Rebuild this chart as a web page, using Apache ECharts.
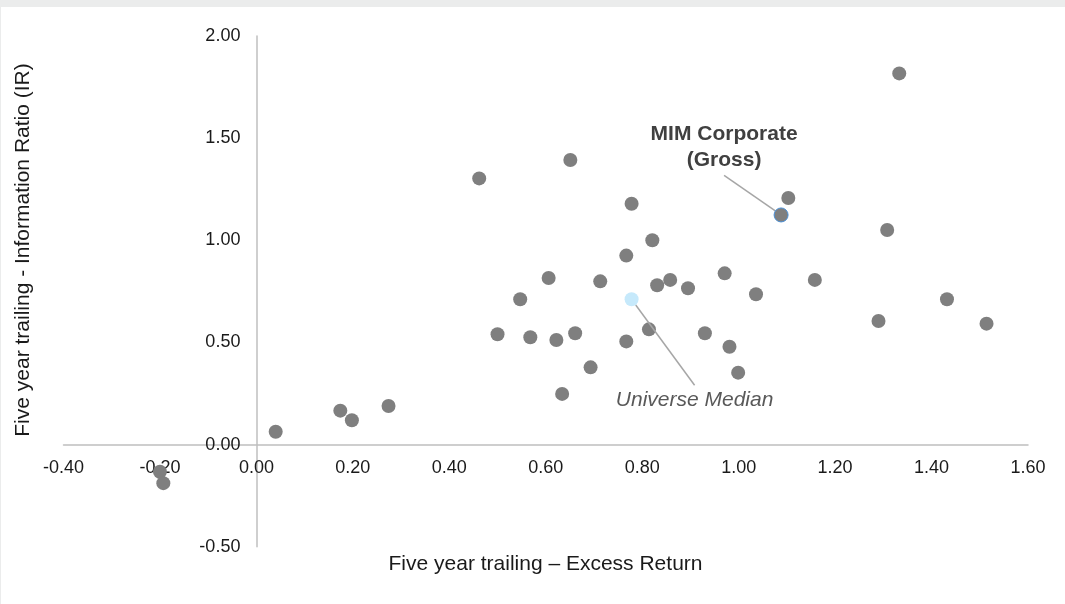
<!DOCTYPE html>
<html>
<head>
<meta charset="utf-8">
<script src="https://cdn.jsdelivr.net/npm/echarts@6/dist/echarts.min.js"></script>
<style>
html,body{margin:0;padding:0;background:#ffffff;}
#chart{width:1065px;height:604px;}
</style>
</head>
<body>
<div id="chart"></div>
<script>
// ---- Data ----
const xTickLabels = ['-0.40','-0.20','0.00','0.20','0.40','0.60','0.80','1.00','1.20','1.40','1.60'];
const yTickLabels = ['-0.50','0.00','0.50','1.00','1.50','2.00'];

const xAxisTitle = 'Five year trailing \u2013 Excess Return';
const yAxisTitle = 'Five year trailing - Information Ratio (IR)';

// Universe managers: five-year excess return and information ratio
const universeReturn = [-0.200,-0.193,0.040,0.174,0.198,0.274,0.462,0.651,0.778,0.821,0.767,0.606,0.713,0.831,0.858,0.895,0.971,1.036,1.103,1.308,1.333,1.158,1.432,1.290,1.514,0.547,0.814,0.500,0.568,0.622,0.661,0.767,0.930,0.981,0.999,0.693,0.634];
const universeIR     = [-0.133,-0.189,0.063,0.166,0.119,0.189,1.303,1.393,1.179,1.000,0.925,0.815,0.799,0.780,0.806,0.765,0.838,0.736,1.207,1.050,1.817,0.806,0.711,0.605,0.592,0.711,0.564,0.540,0.525,0.512,0.545,0.505,0.545,0.479,0.352,0.378,0.248];

const medianName = 'Universe Median';
const medianReturn = [0.778];
const medianIR = [0.711];

const mimName = 'MIM Corporate\n(Gross)';
const mimReturn = [1.088];
const mimIR = [1.124];

// ---- Build chart ----
const FONT = '"Liberation Sans", Arial, sans-serif';
const W = 1065, H = 604;
const GRID = { left: 63.5, right: 37, top: 36, bottom: 57.3 };

const xMin = parseFloat(xTickLabels[0]);
const xMax = parseFloat(xTickLabels[xTickLabels.length - 1]);
const xInt = parseFloat(xTickLabels[1]) - parseFloat(xTickLabels[0]);
const yMin = parseFloat(yTickLabels[0]);
const yMax = parseFloat(yTickLabels[yTickLabels.length - 1]);
const yInt = parseFloat(yTickLabels[1]) - parseFloat(yTickLabels[0]);

// axes cross at zero: shift each axis inward to the other axis' zero
const plotW = W - GRID.left - GRID.right;
const plotH = H - GRID.top - GRID.bottom;
const xAxisOffset = -((0 - yMin) / (yMax - yMin)) * plotH;
const yAxisOffset = -((0 - xMin) / (xMax - xMin)) * plotW;

function tickFmt(labels) {
  return function (v) {
    let best = labels[0], bd = Infinity;
    labels.forEach(l => { const d = Math.abs(parseFloat(l) - v); if (d < bd) { bd = d; best = l; } });
    return best;
  };
}
function zip(a, b, name) { return a.map((v, i) => ({ name: name || '', value: [v, b[i]] })); }

const chart = echarts.init(document.getElementById('chart'), null, { renderer: 'canvas' });
chart.setOption({
  animation: false,
  backgroundColor: '#ffffff',
  textStyle: { fontFamily: FONT },
  grid: Object.assign({ containLabel: false, outerBoundsMode: 'none' }, GRID),
  xAxis: {
    type: 'value', min: xMin, max: xMax, interval: xInt,
    position: 'bottom', offset: xAxisOffset,
    axisLine: { show: true, onZero: false, lineStyle: { color: '#bfbfbf', width: 1.5 } },
    axisTick: { show: false },
    splitLine: { show: false },
    axisLabel: { show: true, color: '#1a1a1a', fontSize: 18, fontFamily: FONT, margin: 14, formatter: tickFmt(xTickLabels), showMinLabel: true, showMaxLabel: true }
  },
  yAxis: {
    type: 'value', min: yMin, max: yMax, interval: yInt,
    position: 'left', offset: yAxisOffset,
    axisLine: { show: true, onZero: false, lineStyle: { color: '#bfbfbf', width: 1.5 } },
    axisTick: { show: false },
    splitLine: { show: false },
    axisLabel: { show: true, color: '#1a1a1a', fontSize: 18, fontFamily: FONT, margin: 16, formatter: tickFmt(yTickLabels), showMinLabel: true, showMaxLabel: true }
  },
  graphic: [
    { type: 'rect', left: 0, top: 0, shape: { width: W, height: 7 }, style: { fill: '#ebecec' }, z: -1 },
    { type: 'rect', left: 0, top: 0, shape: { width: 1, height: H }, style: { fill: '#ebecec' }, z: -1 },
    { type: 'text', x: 545.5, y: 564, style: { text: xAxisTitle, fill: '#1a1a1a', font: '21px ' + FONT, textAlign: 'center', textVerticalAlign: 'middle' } },
    { type: 'text', x: 23, y: 250, rotation: Math.PI / 2, style: { text: yAxisTitle, fill: '#1a1a1a', font: '21px ' + FONT, textAlign: 'center', textVerticalAlign: 'middle' } }
  ],
  series: [
    {
      name: 'Universe', type: 'scatter', symbol: 'circle', symbolSize: 14,
      itemStyle: { color: '#7f7f7f', opacity: 1 },
      emphasis: { disabled: true },
      data: zip(universeReturn, universeIR),
      z: 2
    },
    {
      name: medianName, type: 'scatter', symbol: 'circle', symbolSize: 14,
      itemStyle: { color: '#c6e9fb', opacity: 1 },
      emphasis: { disabled: true },
      data: zip(medianReturn, medianIR, medianName),
      label: {
        show: true, position: 'inside', formatter: '{b}',
        color: '#595959', fontSize: 21, fontStyle: 'italic', fontFamily: FONT,
        align: 'center', verticalAlign: 'middle',
        backgroundColor: 'rgba(255,255,255,0)', padding: [5, 45, 4, 45]
      },
      labelLayout: { dx: 63, dy: 101 },
      labelLine: { show: true, lineStyle: { color: '#a6a6a6', width: 1.5 } },
      z: 3
    },
    {
      name: 'MIM Corporate (Gross)', type: 'scatter', symbol: 'circle', symbolSize: 14,
      itemStyle: { color: '#7f7f7f', borderColor: '#4a8fd6', borderWidth: 1, opacity: 1 },
      emphasis: { disabled: true },
      data: zip(mimReturn, mimIR, mimName),
      label: {
        show: true, position: 'inside', formatter: '{b}',
        color: '#404040', fontSize: 21, fontWeight: 'bold', fontFamily: FONT, lineHeight: 26,
        align: 'center', verticalAlign: 'middle',
        backgroundColor: 'rgba(255,255,255,0)', padding: [2, 25, 3, 25]
      },
      labelLayout: { dx: -57, dy: -68 },
      labelLine: { show: true, lineStyle: { color: '#a6a6a6', width: 1.5 } },
      z: 4
    }
  ]
});
</script>
</body>
</html>
